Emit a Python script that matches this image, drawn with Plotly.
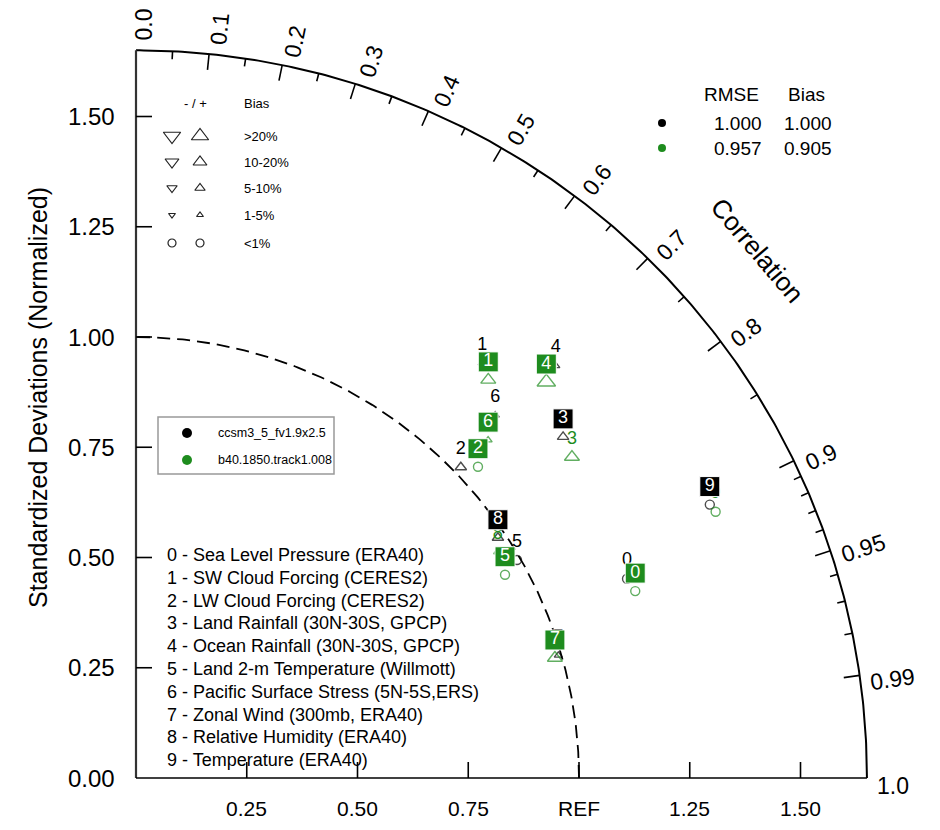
import numpy as np
import plotly.graph_objects as go

# ---------------- data ----------------
case_names = ["Sea Level Pressure (ERA40)", "SW Cloud Forcing (CERES2)", "LW Cloud Forcing (CERES2)",
              "Land Rainfall (30N-30S, GPCP)", "Ocean Rainfall (30N-30S, GPCP)",
              "Land 2-m Temperature (Willmott)", "Pacific Surface Stress (5N-5S,ERS)",
              "Zonal Wind (300mb, ERA40)", "Relative Humidity (ERA40)", "Temperature (ERA40)"]
model_names = ["ccsm3_5_fv1.9x2.5", "b40.1850.track1.008"]
model_colors = ["black", "#1e8c1e"]

std_m1 = [1.197, 1.223, 1.017, 1.236, 1.331, 0.992, 1.155, 0.993, 0.982, 1.436]
cor_m1 = [0.926, 0.639, 0.721, 0.780, 0.712, 0.867, 0.702, 0.960, 0.832, 0.902]
bias_m1 = ["<1%", "1-5%", "5-10%", "5-10%", "1-5%", "<1%", "1-5%", "1-5%", "5-10%", "<1%"]
sign_m1 = ["+", "+", "+", "+", "+", "+", "+", "+", "+", "+"]
boxed_m1 = [False, False, False, True, False, False, False, False, True, True]

std_m2 = [1.204, 1.203, 1.046, 1.224, 1.290, 0.952, 1.104, 0.984, 0.964, 1.441]
cor_m2 = [0.936, 0.661, 0.738, 0.804, 0.718, 0.875, 0.720, 0.961, 0.847, 0.908]
bias_m2 = ["<1%", "10-20%", "<1%", "10-20%", ">20%", "<1%", "1-5%", "10-20%", "1-5%", "<1%"]
sign_m2 = ["+", "+", "+", "+", "+", "+", "+", "+", "+", "+"]
boxed_m2 = [True, True, True, False, True, True, True, True, False, False]

rmse_vals = ["1.000", "0.957"]
bias_vals = ["1.000", "0.905"]

bias_classes = [">20%", "10-20%", "5-10%", "1-5%", "<1%"]

cor_label_vals = [0.0, 0.1, 0.2, 0.3, 0.4, 0.5, 0.6, 0.7, 0.8, 0.9, 0.95, 0.99, 1.0]
cor_label_text = ["0.0", "0.1", "0.2", "0.3", "0.4", "0.5", "0.6", "0.7", "0.8", "0.9", "0.95", "0.99", "1.0"]
cor_major = [0.1, 0.2, 0.3, 0.4, 0.5, 0.6, 0.7, 0.8, 0.9, 0.95, 0.99]
cor_minor = [0.05, 0.15, 0.25, 0.35, 0.45, 0.55, 0.65, 0.75, 0.85, 0.91, 0.92, 0.93, 0.94, 0.96, 0.97, 0.98]

y_tick_vals = [0.0, 0.25, 0.5, 0.75, 1.0, 1.25, 1.5]
y_tick_text = ["0.00", "0.25", "0.50", "0.75", "1.00", "1.25", "1.50"]
x_tick_vals = [0.25, 0.5, 0.75, 1.0, 1.25, 1.5]
x_tick_text = ["0.25", "0.50", "0.75", "REF", "1.25", "1.50"]

RMAX = 1.65

# ---------------- pixel geometry helpers ----------------
W, H = 940, 830
PAGE = 8               # browser body margin
OX, OY = 136 - PAGE, 778 - PAGE   # figure pixel of origin
SX, SY = 443.0, 441.0  # pixels per unit


def px(x):
    return (x - PAGE - OX) / SX


def py(y):
    return (OY - (y - PAGE)) / SY


FONT = "Liberation Sans, Arial, Helvetica, sans-serif"

fig = go.Figure()
annotations = []


def line(xs, ys, width=1.6, color="black", dash=None):
    fig.add_trace(go.Scatter(x=xs, y=ys, mode="lines", hoverinfo="skip", showlegend=False,
                             line=dict(color=color, width=width, dash=dash)))


def text(x, y, s, size, color="black", xa="center", ya="middle", angle=0):
    annotations.append(dict(x=x, y=y, xref="x", yref="y", text=s, showarrow=False,
                            xanchor=xa, yanchor=ya, textangle=angle,
                            font=dict(family=FONT, size=size, color=color)))


# ---------------- frame ----------------
th = np.linspace(0, np.pi / 2, 300)
line(list(RMAX * np.cos(th)), list(RMAX * np.sin(th)), width=2)
line([0, 0], [0, RMAX], width=2.2, color="#333333")
line([0, RMAX], [0, 0], width=1.6)
line(list(np.cos(th)), list(np.sin(th)), width=1.8, dash="13px,7px")

# axis ticks (inward)
tx, ty = [], []
for v in y_tick_vals[1:]:
    tx += [0, 16 / SX, None]
    ty += [v, v, None]
for v in x_tick_vals:
    tx += [v, v, None]
    ty += [0, 16 / SY, None]
for c, L in [(c, 16) for c in cor_major] + [(c, 8) for c in cor_minor]:
    a = np.arccos(c)
    r2 = RMAX - L / 442
    tx += [RMAX * np.cos(a), r2 * np.cos(a), None]
    ty += [RMAX * np.sin(a), r2 * np.sin(a), None]
line(tx, ty, width=1.6)

# tick labels
for v, s in zip(y_tick_vals, y_tick_text):
    text(px(117), v, s, 24, xa="right")
for v, s in zip(x_tick_vals, x_tick_text):
    text(v, py(808), s, 21)
for c, s in zip(cor_label_vals, cor_label_text):
    a = np.arccos(c)
    fs = 23
    half = (sum(0.556 for ch in s if ch.isdigit()) + 0.278 * s.count(".")) * fs / 2
    r = RMAX + (10 + half) / 442
    shift = 8 / 442  # small clockwise offset
    xx = r * np.cos(a) + shift * np.sin(a)
    yy = r * np.sin(a) - shift * np.cos(a)
    text(xx, yy, s, fs, angle=-np.degrees(a))

# titles
text(px(38), py(398), "Standardized Deviations (Normalized)", 25, angle=-90)
text(px(757), py(250), "Correlation", 26, angle=49.6)

# ---------------- data points ----------------
bias_style = {">20%": 16, "10-20%": 13, "5-10%": 10, "1-5%": 7, "<1%": 9}


def symbol_for(b, sgn):
    if b == "<1%":
        return "circle-open"
    return "triangle-up-open" if sgn == "+" else "triangle-down-open"


models = [(std_m1, cor_m1, bias_m1, sign_m1, boxed_m1), (std_m2, cor_m2, bias_m2, sign_m2, boxed_m2)]
pos = []
for (std, cor, bias, sgn, boxed), col in zip(models, model_colors):
    std = np.array(std)
    cor = np.array(cor)
    xs = std * cor
    ys = std * np.sqrt(1 - cor ** 2)
    pos.append((xs, ys))
    fig.add_trace(go.Scatter(x=xs, y=ys, mode="markers", showlegend=False, hoverinfo="skip",
                             marker=dict(symbol=[symbol_for(b, s) for b, s in zip(bias, sgn)],
                                         size=[bias_style[b] for b in bias], color=col,
                                         line=dict(color=col, width=1.4))))

LOFF = 18 / SY
# unboxed labels
for (xs, ys), (std, cor, bias, sgn, boxed), col in zip(pos, models, model_colors):
    idx = [i for i in range(10) if not boxed[i]]
    fig.add_trace(go.Scatter(x=xs[idx], y=ys[idx] + LOFF, mode="text", text=[str(i) for i in idx],
                             textposition="middle center", showlegend=False, hoverinfo="skip",
                             textfont=dict(family=FONT, size=18, color=col)))
# boxed labels
for (xs, ys), (std, cor, bias, sgn, boxed), col in zip(pos, models, model_colors):
    idx = [i for i in range(10) if boxed[i]]
    fig.add_trace(go.Scatter(x=xs[idx], y=ys[idx] + LOFF, mode="markers+text", text=[str(i) for i in idx],
                             textposition="middle center", showlegend=False, hoverinfo="skip",
                             marker=dict(symbol="square", size=20, color=col,
                                         line=dict(color="white", width=1)),
                             textfont=dict(family=FONT, size=18, color="white")))

# ---------------- bias legend (top-left) ----------------
text(px(195), py(103), "- / +", 13)
text(px(242), py(103), "Bias", 13, xa="left")
row_y = [136, 162, 188, 215, 243]
for b, yy in zip(bias_classes, row_y):
    s = bias_style[b] - 1
    if b == "<1%":
        syms = ["circle-open", "circle-open"]
        s = 8
    else:
        syms = ["triangle-down-open", "triangle-up-open"]
    fig.add_trace(go.Scatter(x=[px(172), px(200)], y=[py(yy), py(yy)], mode="markers",
                             showlegend=False, hoverinfo="skip",
                             marker=dict(symbol=syms, size=s, color="#222",
                                         line=dict(color="#222", width=1.2))))
    text(px(242), py(yy), b, 13, xa="left")

# ---------------- RMSE / Bias table ----------------
text(px(731), py(94), "RMSE", 19)
text(px(806), py(94), "Bias", 19)
for i, yy in enumerate([123, 148]):
    fig.add_trace(go.Scatter(x=[px(662)], y=[py(yy)], mode="markers", showlegend=False, hoverinfo="skip",
                             marker=dict(size=8, color=model_colors[i])))
    text(px(738), py(yy), rmse_vals[i], 19)
    text(px(808), py(yy), bias_vals[i], 19)

# ---------------- model legend box ----------------
fig.add_shape(type="rect", xref="x", yref="y", x0=px(158), x1=px(334), y0=py(417), y1=py(474),
              line=dict(color="#999999", width=1.5), fillcolor="white", layer="below")
for i, yy in enumerate([433, 460]):
    fig.add_trace(go.Scatter(x=[px(187)], y=[py(yy)], mode="markers", showlegend=False, hoverinfo="skip",
                             marker=dict(size=10, color=model_colors[i])))
    text(px(216), py(yy), model_names[i], 12.5, xa="left")

# ---------------- case list ----------------
for i, name in enumerate(case_names):
    text(px(165), py(555 + 22.8 * i), f"{i} - {name}", 18, xa="left")

fig.update_layout(
    width=W, height=H, autosize=False,
    margin=dict(l=0, r=0, t=0, b=0),
    paper_bgcolor="white", plot_bgcolor="white",
    xaxis=dict(range=[px(PAGE), px(W + PAGE)], visible=False, fixedrange=True),
    yaxis=dict(range=[py(H + PAGE), py(PAGE)], visible=False, fixedrange=True),
    annotations=annotations,
    showlegend=False,
)

fig.write_html("out.html", config={"displayModeBar": False})
